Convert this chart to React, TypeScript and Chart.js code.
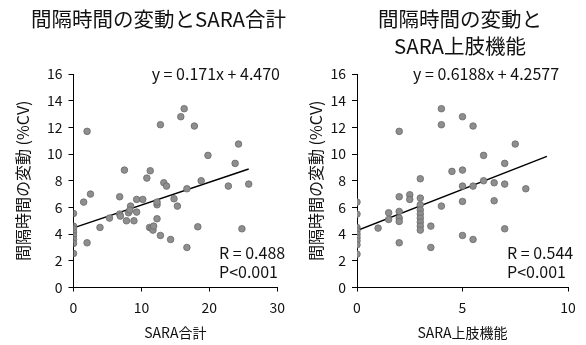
import React, { useEffect, useRef } from "react";
import { Chart, registerables } from "chart.js";

Chart.register(...registerables);

const FONT = "'Noto Sans CJK JP', 'Noto Sans', sans-serif";

// Left panel: SARA total vs CV
const saraTotal = [0, 0, 0, 0, 0, 0, 0, 0, 1.5, 2.0, 2.0, 2.5, 3.9, 5.3, 6.8, 6.8, 6.9, 7.5, 7.8, 8.1, 8.4, 8.3, 8.9, 9.3, 9.3, 10.2, 10.8, 11.3, 11.2, 11.5, 11.7, 11.8, 12.3, 12.3, 12.3, 12.8, 12.8, 13.3, 13.7, 14.3, 14.8, 15.3, 15.8, 16.3, 16.7, 16.7, 17.8, 18.3, 18.8, 19.8, 22.8, 23.8, 24.3, 24.8, 25.8];
const cvLeft = [5.55, 4.6, 4.4, 4.15, 3.9, 3.6, 3.3, 2.55, 6.4, 11.7, 3.35, 7.0, 4.5, 5.2, 6.8, 5.5, 5.35, 8.8, 5.0, 5.6, 6.1, 5.8, 5.0, 5.65, 6.6, 6.6, 8.2, 8.75, 4.5, 4.45, 4.3, 4.6, 5.15, 6.2, 6.4, 12.2, 3.9, 7.85, 7.6, 3.6, 6.65, 6.1, 12.8, 13.4, 7.4, 3.0, 12.1, 4.55, 8.0, 9.9, 7.6, 9.3, 10.75, 4.4, 7.75];
const trendLeftX = [0, 25.8];
const trendLeftY = [4.47, 8.88];

// Right panel: SARA upper limb vs CV
const saraUpper = [0, 0, 0, 0, 0, 0, 0, 0, 0, 1.0, 1.5, 1.5, 2, 2, 2, 2, 2, 2, 2.5, 2.5, 3, 3, 3, 3, 3, 3, 3, 3, 3, 3.5, 3.5, 4, 4, 4, 4.5, 5, 5, 5, 5, 5, 5.5, 5.5, 5.5, 6, 6, 6.5, 6.5, 7, 7, 7, 7.5, 8];
const cvRight = [6.4, 5.5, 4.5, 4.25, 4.0, 3.75, 3.5, 3.2, 2.5, 4.45, 5.6, 5.1, 11.7, 6.8, 5.7, 5.2, 4.95, 3.35, 6.95, 6.6, 8.15, 6.7, 6.2, 5.8, 5.5, 5.2, 4.9, 4.6, 4.3, 4.6, 3.0, 13.4, 12.2, 6.1, 8.7, 12.8, 8.8, 7.6, 6.45, 3.9, 12.1, 7.6, 3.6, 9.9, 8.0, 7.85, 6.5, 9.3, 7.75, 4.4, 10.75, 7.4];
const trendRightX = [0, 9.0];
const trendRightY = [4.26, 9.83];

const yTicks = [0, 2, 4, 6, 8, 10, 12, 14, 16];
const yTitle = "間隔時間の変動 (%CV)";

type PanelCfg = {
  xs: number[];
  ys: number[];
  tx: number[];
  ty: number[];
  xMax: number;
  xStep: number;
  xTitle: string;
  title: string[];
  titleX: number;
  eq: string;
  eqX: number;
  eqAlign: CanvasTextAlign;
  rText: string;
  pText: string;
  statX: number;
  yWidth: number;
  padRight: number;
};

function makeChart(canvas: HTMLCanvasElement, c: PanelCfg) {
  const annot = {
    id: "annot",
    afterDraw(chart: any) {
      const ctx = chart.ctx as CanvasRenderingContext2D;
      ctx.save();
      ctx.fillStyle = "#111";
      ctx.textBaseline = "middle";
      ctx.textAlign = "center";
      ctx.font = `20.5px ${FONT}`;
      c.title.forEach((t, i) => ctx.fillText(t, c.titleX, 19 + i * 27.5));
      ctx.font = `16px ${FONT}`;
      ctx.textAlign = c.eqAlign;
      ctx.fillText(c.eq, c.eqX, 73.5);
      ctx.textAlign = "left";
      ctx.fillText(c.rText, c.statX, 253);
      ctx.fillText(c.pText, c.statX, 272);
      ctx.restore();
    },
  };
  return new Chart(canvas, {
    type: "scatter",
    data: {
      datasets: [
        {
          data: c.xs.map((x, i) => ({ x, y: c.ys[i] })),
          backgroundColor: "#8e8e8e",
          borderColor: "#6a6a6a",
          borderWidth: 0.8,
          pointRadius: 3.3,
        },
        {
          data: c.tx.map((x, i) => ({ x, y: c.ty[i] })),
          showLine: true,
          borderColor: "#000",
          borderWidth: 1.5,
          pointRadius: 0,
        } as any,
      ],
    },
    options: {
      responsive: false,
      animation: false,
      layout: { padding: { top: 74, right: c.padRight, bottom: 0, left: 0 } },
      plugins: { legend: { display: false }, tooltip: { enabled: false }, title: { display: false } },
      scales: {
        x: {
          type: "linear",
          min: 0,
          max: c.xMax,
          ticks: { stepSize: c.xStep, color: "#111", font: { size: 14, family: FONT }, padding: 8 },
          grid: { drawOnChartArea: false, drawTicks: true, tickLength: 4, color: "#000" },
          border: { display: true, color: "#000", width: 1 },
          title: { display: true, text: c.xTitle, color: "#111", font: { size: 14, family: FONT }, padding: { top: 0, bottom: 4 } },
          afterFit(scale: any) {
            scale.height = 57.5;
          },
        },
        y: {
          type: "linear",
          min: 0,
          max: 16,
          afterBuildTicks(scale: any) {
            scale.ticks = yTicks.map((v) => ({ value: v }));
          },
          ticks: { color: "#111", font: { size: 14, family: FONT }, padding: 6 },
          grid: { drawOnChartArea: false, drawTicks: true, tickLength: 5, color: "#000" },
          border: { display: true, color: "#000", width: 1 },
          title: { display: true, text: yTitle, color: "#111", font: { size: 16, family: FONT }, padding: { top: 13, bottom: 0 } },
          afterFit(scale: any) {
            scale.width = c.yWidth;
          },
        },
      },
    },
    plugins: [annot],
  } as any);
}

export default function App() {
  const leftRef = useRef<HTMLCanvasElement>(null);
  const rightRef = useRef<HTMLCanvasElement>(null);

  useEffect(() => {
    Chart.defaults.font.family = FONT;
    const a = makeChart(leftRef.current!, {
      xs: saraTotal,
      ys: cvLeft,
      tx: trendLeftX,
      ty: trendLeftY,
      xMax: 30,
      xStep: 10,
      xTitle: "SARA合計",
      title: ["間隔時間の変動とSARA合計"],
      titleX: 158.5,
      eq: "y = 0.171x + 4.470",
      eqX: 280,
      eqAlign: "right",
      rText: "R = 0.488",
      pText: "P<0.001",
      statX: 219,
      yWidth: 73.5,
      padRight: 8,
    });
    const b = makeChart(rightRef.current!, {
      xs: saraUpper,
      ys: cvRight,
      tx: trendRightX,
      ty: trendRightY,
      xMax: 10,
      xStep: 5,
      xTitle: "SARA上肢機能",
      title: ["間隔時間の変動と", "SARA上肢機能"],
      titleX: 167,
      eq: "y = 0.6188x + 4.2577",
      eqX: 120,
      eqAlign: "left",
      rText: "R = 0.544",
      pText: "P<0.001",
      statX: 214,
      yWidth: 64,
      padRight: 18,
    });
    return () => {
      a.destroy();
      b.destroy();
    };
  }, []);

  return (
    <div style={{ position: "absolute", left: 0, top: 0, width: 586, height: 345, background: "#fff" }}>
      <canvas ref={leftRef} width={293} height={345} style={{ position: "absolute", left: 0, top: 0 }} />
      <canvas ref={rightRef} width={293} height={345} style={{ position: "absolute", left: 293, top: 0 }} />
    </div>
  );
}
